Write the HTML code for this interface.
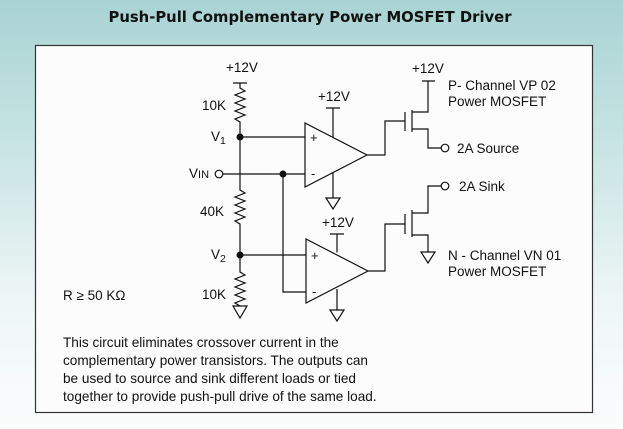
<!DOCTYPE html>
<html><head><style>
html,body{margin:0;padding:0;}
body{width:623px;height:429px;overflow:hidden;background:linear-gradient(#a9d3d3 0%,#c4e2e2 30%,#eef6f6 70%,#fbfdfd 100%);font-family:"Liberation Sans",sans-serif;}
</style></head><body>
<svg width="623" height="429" xmlns="http://www.w3.org/2000/svg" style="position:absolute;left:0;top:0">
<text x="310" y="22" text-anchor="middle" font-family="DejaVu Sans, sans-serif" font-weight="bold" font-size="14.8" fill="#111">Push-Pull Complementary Power MOSFET Driver</text>
<rect x="35.5" y="45.5" width="557" height="367" fill="#fcfcfc" stroke="#333" stroke-width="1.2"/>
<g fill="none" stroke="#111" stroke-width="1.2">
<path d="M233 83H247M240 83V88l5 3l-10 4l10 4l-10 4l10 4l-10 4l10 4l-10 4l5 3V190l5 3l-10 4l10 4l-10 4l10 4l-10 4l10 4l-10 4l5 3V272l5 3l-10 4l10 4l-10 4l10 4l-10 4l10 4l-10 4l5 3V306"/>
<path d="M233 306H247L240 318Z"/>
<path d="M240 137H305"/>
<path d="M305 123V187L367 155Z"/>
<path d="M223 174H305"/>
<path d="M326 108H340M333 108V137.5"/>
<path d="M333 172V198M326 198H340L333 209Z"/>
<path d="M240 255H306"/>
<path d="M306 239V303L368 271Z"/>
<path d="M283 174V292H306"/>
<path d="M330 234H344M337 234V252.5"/>
<path d="M337 289V310M330 310H344L337 321Z"/>
<path d="M367 155H385V121H405M405 112V131M412 110V132M412 112H428V81M422 81H435M412 129H428V148H441"/>
<path d="M368 271H385V224H405M405 214V234M412 210V237M412 213H428V186H441M412 235H428V252M421 252H435L428 263Z"/>
</g>
<circle cx="240" cy="137" r="3.5" fill="#111"/>
<circle cx="240" cy="255" r="3.5" fill="#111"/>
<circle cx="283" cy="174" r="3.5" fill="#111"/>
<circle cx="219" cy="174" r="3.8" fill="#fff" stroke="#111" stroke-width="1.2"/>
<circle cx="445" cy="148" r="3.8" fill="#fff" stroke="#111" stroke-width="1.2"/>
<circle cx="445" cy="186" r="3.8" fill="#fff" stroke="#111" stroke-width="1.2"/>
<g font-family="Liberation Sans, sans-serif" font-size="13.5" fill="#111">
<text x="226" y="72">+12V</text>
<text x="318" y="101">+12V</text>
<text x="322" y="227">+12V</text>
<text x="412" y="73">+12V</text>
<text x="202" y="110">10K</text>
<text x="200" y="216">40K</text>
<text x="202" y="299">10K</text>
<text x="211" y="141">V<tspan font-size="10.5" dy="3">1</tspan></text>
<text x="211" y="259">V<tspan font-size="10.5" dy="3">2</tspan></text>
<text x="189" y="178">V<tspan font-size="11">IN</tspan></text>
<text x="310" y="142" font-size="13">+</text>
<text x="311" y="178" font-size="13">-</text>
<text x="311" y="260" font-size="13">+</text>
<text x="312" y="296" font-size="13">-</text>
<text x="448" y="90">P- Channel VP 02</text>
<text x="448" y="106">Power MOSFET</text>
<text x="457" y="153">2A Source</text>
<text x="459" y="191">2A Sink</text>
<text x="448" y="260">N - Channel VN 01</text>
<text x="448" y="276">Power MOSFET</text>
<text x="63" y="300">R ≥ 50 KΩ</text>
<text x="63" y="347" font-size="13.6">This circuit eliminates crossover current in the</text>
<text x="63" y="365" font-size="13.6">complementary power transistors.  The outputs can</text>
<text x="63" y="383" font-size="13.6">be used to source and sink different loads or tied</text>
<text x="63" y="401" font-size="13.6">together to provide push-pull drive of the same load.</text>
</g>
</svg>
</body></html>
